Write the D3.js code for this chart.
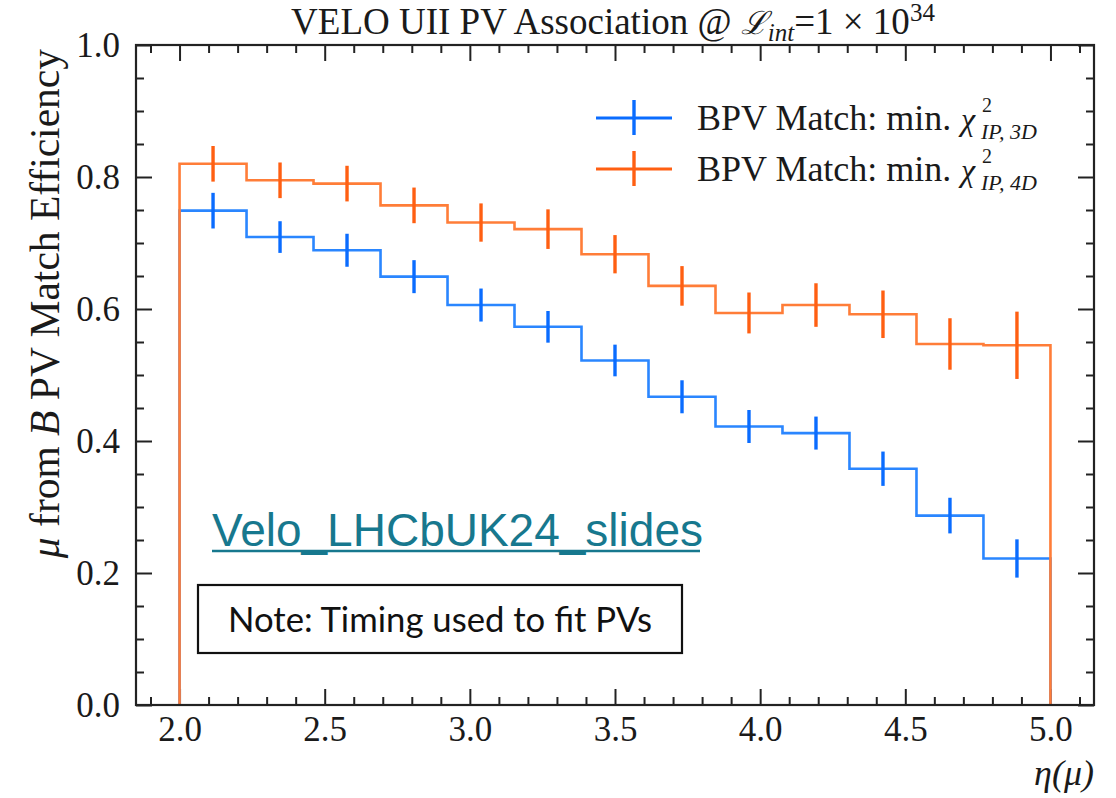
<!DOCTYPE html>
<html>
<head>
<meta charset="utf-8">
<script src="https://cdn.jsdelivr.net/npm/d3@7"></script>
<style>
  html, body { margin: 0; padding: 0; background: #fff; }
  svg { display: block; }
</style>
</head>
<body>
<svg id="chart" width="1116" height="798"></svg>
<script>
// Pseudorapidity bin edges (13 equal bins from 2.0 to 5.0)
const binEdges = [2.0, 2.2308, 2.4615, 2.6923, 2.9231, 3.1538, 3.3846, 3.6154, 3.8462, 4.0769, 4.3077, 4.5385, 4.7692, 5.0];

// BPV match efficiency, min. chi2_IP 3D
const eff3D = [0.749, 0.709, 0.689, 0.649, 0.606, 0.573, 0.522, 0.467, 0.422, 0.412, 0.358, 0.287, 0.222];
const err3D = [0.027, 0.024, 0.025, 0.025, 0.025, 0.024, 0.024, 0.025, 0.025, 0.025, 0.026, 0.027, 0.029];

// BPV match efficiency, min. chi2_IP 4D
const eff4D = [0.820, 0.795, 0.790, 0.757, 0.731, 0.721, 0.683, 0.635, 0.594, 0.606, 0.592, 0.547, 0.545];
const err4D = [0.027, 0.027, 0.027, 0.027, 0.029, 0.030, 0.029, 0.030, 0.031, 0.033, 0.036, 0.039, 0.051];

const xMajorTicks = [2.0, 2.5, 3.0, 3.5, 4.0, 4.5, 5.0];
const yMajorTicks = [0.0, 0.2, 0.4, 0.6, 0.8, 1.0];
const xDomain = [1.85, 5.15];
const yDomain = [0, 1];

const seriesLabels = ["BPV Match: min.", "BPV Match: min."];
const seriesSubs = ["IP, 3D", "IP, 4D"];

const SERIF = "'Liberation Serif', 'Times New Roman', serif";
const svg = d3.select("#chart");
const plot = { left: 136, right: 1094, top: 45, bottom: 705 };

const x = d3.scaleLinear().domain(xDomain).range([plot.left, plot.right]);
const y = d3.scaleLinear().domain(yDomain).range([plot.bottom, plot.top]);

const colors = {
  blueLine: "#2a86ff", blueErr: "#0a6cff",
  orangeLine: "#ff7d38", orangeErr: "#ff5f12"
};

// ---- axes: inward ticks on all four sides ----
const axisColor = "#222";
const majorLen = 16, minorLen = 8;
const xMinor = d3.range(19, 52).map(v => v / 10).filter(v => !xMajorTicks.some(t => Math.abs(t - v) < 1e-9));
const yMinor = d3.range(1, 20).map(v => v / 20).filter(v => !yMajorTicks.some(t => Math.abs(t - v) < 1e-9));

function styleAxis(g) {
  g.select(".domain").remove();
  g.attr("font-family", null).attr("font-size", null);
  g.selectAll(".tick line").attr("stroke", axisColor).attr("stroke-width", 2);
}
function styleLabels(g) {
  g.selectAll("text")
    .attr("font-family", SERIF)
    .style("font-family", SERIF).style("font-size", "35px")
    .attr("fill", "#1a1a1a");
}

// bottom
svg.append("g").attr("transform", `translate(0,${plot.bottom})`)
  .call(d3.axisBottom(x).tickValues(xMajorTicks).tickSize(-majorLen).tickFormat(d3.format(".1f")))
  .call(styleAxis).call(styleLabels)
  .call(g => g.selectAll("text").attr("y", 11).attr("dy", "0.71em"));
svg.append("g").attr("transform", `translate(0,${plot.bottom})`)
  .call(d3.axisBottom(x).tickValues(xMinor).tickSize(-minorLen).tickFormat(""))
  .call(styleAxis);
// top
svg.append("g").attr("transform", `translate(0,${plot.top})`)
  .call(d3.axisTop(x).tickValues(xMajorTicks).tickSize(-majorLen).tickFormat(""))
  .call(styleAxis);
svg.append("g").attr("transform", `translate(0,${plot.top})`)
  .call(d3.axisTop(x).tickValues(xMinor).tickSize(-minorLen).tickFormat(""))
  .call(styleAxis);
// left
svg.append("g").attr("transform", `translate(${plot.left},0)`)
  .call(d3.axisLeft(y).tickValues(yMajorTicks).tickSize(-majorLen).tickFormat(d3.format(".1f")))
  .call(styleAxis).call(styleLabels)
  .call(g => g.selectAll("text").attr("x", -16).attr("dy", "0.34em"));
svg.append("g").attr("transform", `translate(${plot.left},0)`)
  .call(d3.axisLeft(y).tickValues(yMinor).tickSize(-minorLen).tickFormat(""))
  .call(styleAxis);
// right
svg.append("g").attr("transform", `translate(${plot.right},0)`)
  .call(d3.axisRight(y).tickValues(yMajorTicks).tickSize(-majorLen).tickFormat(""))
  .call(styleAxis);
svg.append("g").attr("transform", `translate(${plot.right},0)`)
  .call(d3.axisRight(y).tickValues(yMinor).tickSize(-minorLen).tickFormat(""))
  .call(styleAxis);

// ---- step histograms with error bars ----
function stepPoints(vals) {
  const pts = [[binEdges[0], 0]];
  vals.forEach((v, i) => pts.push([binEdges[i], v]));
  pts.push([binEdges[binEdges.length - 1], vals[vals.length - 1]]);
  pts.push([binEdges[binEdges.length - 1], 0]);
  return pts;
}
const stepLine = d3.line().x(d => x(d[0])).y(d => y(d[1])).curve(d3.curveStepAfter);

function drawSeries(vals, errs, lineColor, errColor) {
  const g = svg.append("g");
  g.append("path").datum(stepPoints(vals))
    .attr("d", stepLine).attr("fill", "none")
    .attr("stroke", lineColor).attr("stroke-width", 2.6);
  g.selectAll("line.err").data(vals).join("line")
    .attr("class", "err")
    .attr("x1", (d, i) => x((binEdges[i] + binEdges[i + 1]) / 2))
    .attr("x2", (d, i) => x((binEdges[i] + binEdges[i + 1]) / 2))
    .attr("y1", (d, i) => y(d - errs[i]))
    .attr("y2", (d, i) => y(d + errs[i]))
    .attr("stroke", errColor).attr("stroke-width", 3.4);
}
drawSeries(eff3D, err3D, colors.blueLine, colors.blueErr);
drawSeries(eff4D, err4D, colors.orangeLine, colors.orangeErr);

// frame
svg.append("rect")
  .attr("x", plot.left).attr("y", plot.top)
  .attr("width", plot.right - plot.left).attr("height", plot.bottom - plot.top)
  .attr("fill", "none").attr("stroke", axisColor).attr("stroke-width", 2.2);

// ---- legend ----
const legendRows = [
  { y: 118, color: colors.blueErr, text: seriesLabels[0], sub: seriesSubs[0] },
  { y: 169, color: colors.orangeErr, text: seriesLabels[1], sub: seriesSubs[1] }
];
const lg = svg.append("g").style("font-family", SERIF).attr("fill", "#1a1a1a");
legendRows.forEach(r => {
  lg.append("line").attr("x1", 596).attr("x2", 672).attr("y1", r.y).attr("y2", r.y)
    .attr("stroke", r.color).attr("stroke-width", 3);
  lg.append("line").attr("x1", 634).attr("x2", 634).attr("y1", r.y - 18).attr("y2", r.y + 17)
    .attr("stroke", r.color).attr("stroke-width", 3.4);
  lg.append("text").style("font-size", "36px")
    .attr("x", 697).attr("y", r.y + 12).text(r.text);
  lg.append("text").style("font-size", "32px").style("font-style", "italic")
    .attr("x", 961).attr("y", r.y + 12).text("χ");
  lg.append("text").style("font-size", "20px")
    .attr("x", 982).attr("y", r.y - 6).text("2");
  lg.append("text").style("font-size", "22px").style("font-style", "italic")
    .attr("x", 981).attr("y", r.y + 21).text(r.sub);
});

// ---- title ----
const title = svg.append("text").style("font-family", SERIF).style("font-size", "37px")
  .attr("fill", "#1a1a1a").attr("x", 613).attr("y", 34).attr("text-anchor", "middle");
title.append("tspan").text("VELO UII PV Association @ ");
title.append("tspan").style("font-family", "'DejaVu Serif', serif").style("font-style", "italic").style("font-size", "32px").text("ℒ");
title.append("tspan").style("font-style", "italic").style("font-size", "25px").attr("dy", 7).text("int");
title.append("tspan").attr("dy", -7).text("=1 × 10");
title.append("tspan").style("font-size", "25px").attr("dy", -13).text("34");

// ---- axis labels ----
const ylab = svg.append("text").style("font-family", SERIF).style("font-size", "41.5px")
  .attr("fill", "#1a1a1a").attr("text-anchor", "end")
  .attr("transform", `translate(59,${plot.top + 4}) rotate(-90)`);
ylab.append("tspan").style("font-style", "italic").text("μ");
ylab.append("tspan").text(" from ");
ylab.append("tspan").style("font-style", "italic").text("B");
ylab.append("tspan").text(" PV Match Efficiency");

svg.append("text").style("font-family", SERIF).style("font-size", "36px").style("font-style", "italic")
  .attr("fill", "#1a1a1a").attr("x", plot.right).attr("y", 785).attr("text-anchor", "end").text("η(μ)");

// ---- annotations ----
svg.append("text").attr("x", 212).attr("y", 546)
  .style("font-family", "'Liberation Sans', Arial, sans-serif").style("font-size", "46px")
  .attr("fill", "#17788e").text("Velo_LHCbUK24_slides");
svg.append("line").attr("x1", 212).attr("x2", 700).attr("y1", 551).attr("y2", 551)
  .attr("stroke", "#17788e").attr("stroke-width", 2.5);

svg.append("rect").attr("x", 198).attr("y", 585).attr("width", 484).attr("height", 68)
  .attr("fill", "#fff").attr("stroke", "#111").attr("stroke-width", 2.2);
svg.append("text").attr("x", 228).attr("y", 632)
  .style("font-family", "Lato, 'Open Sans', sans-serif").style("font-size", "34px")
  .attr("textLength", 424).attr("lengthAdjust", "spacingAndGlyphs")
  .attr("fill", "#111").text("Note: Timing used to fit PVs");
</script>
</body>
</html>
